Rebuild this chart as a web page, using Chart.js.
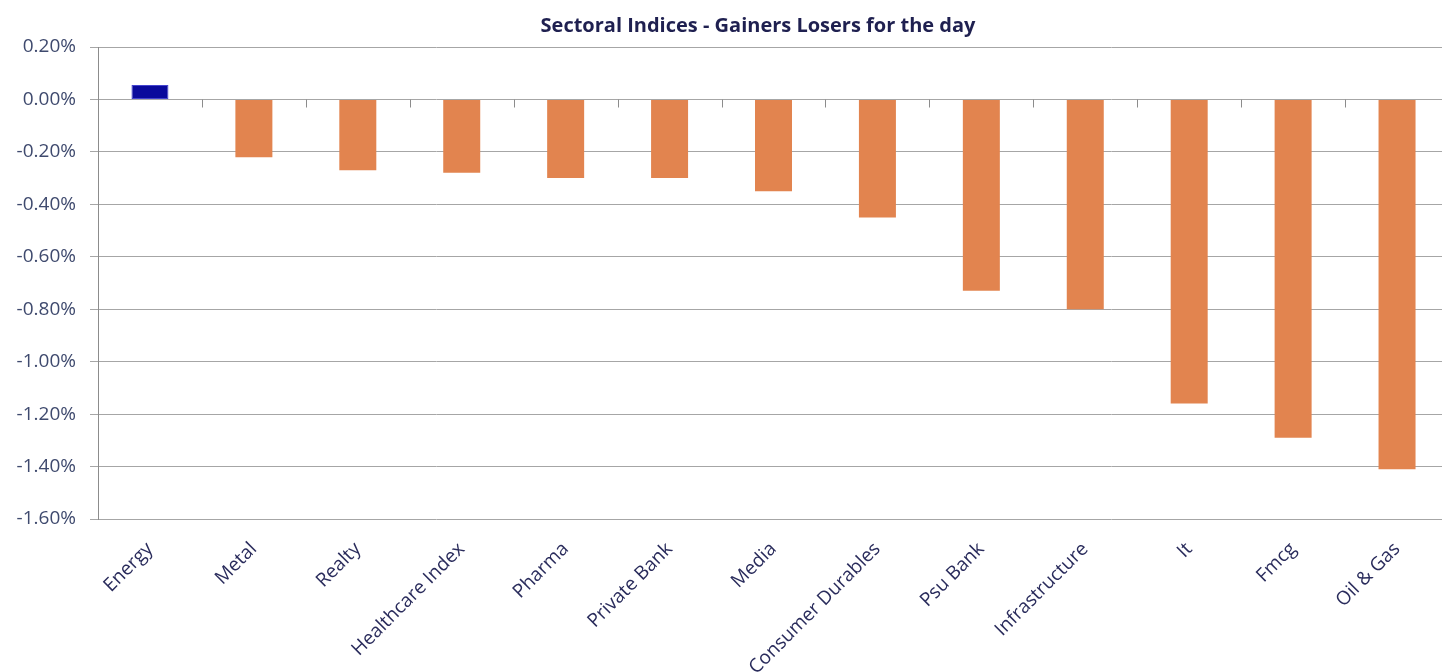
<!DOCTYPE html>
<html>
<head>
<meta charset="utf-8">
<script src="https://cdn.jsdelivr.net/npm/chart.js@4/dist/chart.umd.min.js"></script>
<style>
  html, body { margin: 0; padding: 0; background: #ffffff; overflow: hidden; }
  #wrap { position: absolute; left: 0; top: 0; width: 1450px; height: 672px; }
</style>
</head>
<body>
<div id="wrap"><canvas id="c" width="1450" height="672"></canvas></div>
<script>
const chartTitle = 'Sectoral Indices - Gainers Losers for the day';
const categories = ['Energy', 'Metal', 'Realty', 'Healthcare Index', 'Pharma', 'Private Bank', 'Media',
  'Consumer Durables', 'Psu Bank', 'Infrastructure', 'It', 'Fmcg', 'Oil & Gas'];
const changePct = [0.055, -0.22, -0.27, -0.28, -0.30, -0.30, -0.35, -0.45, -0.73, -0.80, -1.16, -1.29, -1.41];
const yTickMin = -1.6;
const yTickMax = 0.2;
const yTickStep = 0.2;

const gainColor = '#0a0a9c';
const gainBorder = '#4444d0';
const loseColor = '#e2844f';

const zeroTicks = {
  id: 'zeroTicks',
  afterDatasetsDraw(chart) {
    const xs = chart.scales.x, ys = chart.scales.y, ctx = chart.ctx;
    const y0 = Math.round(ys.getPixelForValue(0)) + 0.5;
    ctx.save();
    ctx.strokeStyle = '#8c8c8c';
    ctx.lineWidth = 1;
    ctx.beginPath();
    for (let i = 1; i < categories.length; i++) {
      const x = Math.round((xs.getPixelForValue(i - 1) + xs.getPixelForValue(i)) / 2) + 0.5;
      ctx.moveTo(x, y0);
      ctx.lineTo(x, y0 + 8);
    }
    ctx.stroke();
    ctx.restore();
  }
};

const customTitle = {
  id: 'customTitle',
  afterDraw(chart) {
    const ctx = chart.ctx;
    ctx.save();
    ctx.font = 'bold 20px "Open Sans"';
    ctx.fillStyle = '#1f2050';
    ctx.textAlign = 'center';
    ctx.textBaseline = 'middle';
    ctx.fillText(chartTitle, 758, 26);
    ctx.restore();
  }
};

new Chart(document.getElementById('c'), {
  type: 'bar',
  data: {
    labels: categories,
    datasets: [{
      data: changePct,
      backgroundColor: changePct.map(v => v >= 0 ? gainColor : loseColor),
      borderColor: changePct.map(v => v >= 0 ? gainBorder : loseColor),
      borderWidth: changePct.map(v => v >= 0 ? 1 : 0),
      borderSkipped: false,
      barPercentage: 0.356,
      categoryPercentage: 1.0
    }]
  },
  options: {
    responsive: false,
    devicePixelRatio: 1,
    animation: false,
    layout: { padding: { top: 47, right: 1, left: 0, bottom: 0 } },
    plugins: {
      legend: { display: false },
      title: { display: false },
      tooltip: { enabled: false }
    },
    scales: {
      x: {
        grid: { display: false, drawTicks: false },
        border: { display: false },
        ticks: {
          minRotation: 45,
          maxRotation: 45,
          autoSkip: false,
          padding: 19,
          color: '#2a2c5c',
          font: { family: '"Open Sans"', size: 19 }
        },
        afterFit(scale) { scale.height = 672 - 519; }
      },
      y: {
        min: yTickMin,
        max: yTickMax,
        grid: {
          color: '#a6a6a6',
          lineWidth: 1,
          drawTicks: true,
          tickLength: 8
        },
        border: { display: true, color: '#8c8c8c', width: 1 },
        ticks: {
          stepSize: yTickStep,
          padding: 14,
          color: '#3f4a6e',
          font: { family: '"Open Sans"', size: 19 },
          callback: v => Number(v).toFixed(2) + '%'
        },
        afterFit(scale) { scale.width = 98; }
      }
    }
  },
  plugins: [zeroTicks, customTitle]
});
</script>
</body>
</html>
